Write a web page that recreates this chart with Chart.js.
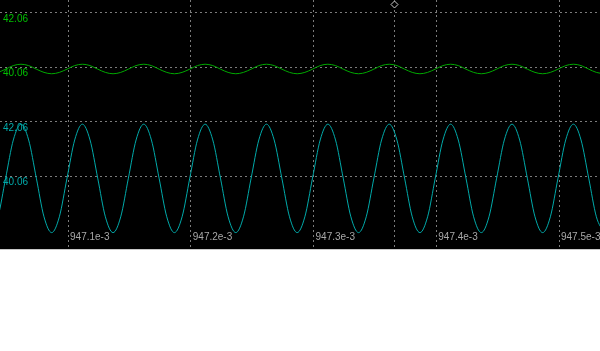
<!DOCTYPE html>
<html>
<head>
<meta charset="utf-8">
<script src="https://cdn.jsdelivr.net/npm/chart.js@4/dist/chart.umd.min.js"></script>
<style>
  html, body { margin: 0; padding: 0; background: #ffffff; }
  #wrap { position: relative; width: 600px; height: 351px; }
</style>
</head>
<body>
<div id="wrap"><canvas id="c"></canvas></div>
<script>
// ---- data ----
const sampleTimes = [
  0.94703670, 0.94704295, 0.94704920, 0.94705545, 0.94706170, 0.94706795, 0.94707420, 0.94708045,
  0.94708670, 0.94709295, 0.94709920, 0.94710545, 0.94711170, 0.94711795, 0.94712420, 0.94713045,
  0.94713670, 0.94714295, 0.94714920, 0.94715545, 0.94716170, 0.94716795, 0.94717420, 0.94718045,
  0.94718670, 0.94719295, 0.94719920, 0.94720545, 0.94721170, 0.94721795, 0.94722420, 0.94723045,
  0.94723670, 0.94724295, 0.94724920, 0.94725545, 0.94726170, 0.94726795, 0.94727420, 0.94728045,
  0.94728670, 0.94729295, 0.94729920, 0.94730545, 0.94731170, 0.94731795, 0.94732420, 0.94733045,
  0.94733670, 0.94734295, 0.94734920, 0.94735545, 0.94736170, 0.94736795, 0.94737420, 0.94738045,
  0.94738670, 0.94739295, 0.94739920, 0.94740545, 0.94741170, 0.94741795, 0.94742420, 0.94743045,
  0.94743670, 0.94744295, 0.94744920, 0.94745545, 0.94746170, 0.94746795, 0.94747420, 0.94748045,
  0.94748670, 0.94749295, 0.94749920, 0.94750545, 0.94751170, 0.94751795, 0.94752420, 0.94753045,
  0.94753670
];
const greenValues = [
  39.83, 39.88, 40.00, 40.13, 40.18, 40.13, 40.00, 39.88,
  39.83, 39.88, 40.00, 40.13, 40.18, 40.13, 40.00, 39.88,
  39.83, 39.88, 40.00, 40.13, 40.18, 40.13, 40.00, 39.88,
  39.83, 39.88, 40.00, 40.13, 40.18, 40.13, 40.00, 39.88,
  39.83, 39.88, 40.00, 40.13, 40.18, 40.13, 40.00, 39.88,
  39.83, 39.88, 40.00, 40.13, 40.18, 40.13, 40.00, 39.88,
  39.83, 39.88, 40.00, 40.13, 40.18, 40.13, 40.00, 39.88,
  39.83, 39.88, 40.00, 40.13, 40.18, 40.13, 40.00, 39.88,
  39.83, 39.88, 40.00, 40.13, 40.18, 40.13, 40.00, 39.88,
  39.83, 39.88, 40.00, 40.13, 40.18, 40.13, 40.00, 39.88,
  39.83
];
const cyanValues = [
  38.00, 38.58, 40.00, 41.40, 41.98, 41.40, 40.00, 38.58,
  38.00, 38.58, 40.00, 41.40, 41.98, 41.40, 40.00, 38.58,
  38.00, 38.58, 40.00, 41.40, 41.98, 41.40, 40.00, 38.58,
  38.00, 38.58, 40.00, 41.40, 41.98, 41.40, 40.00, 38.58,
  38.00, 38.58, 40.00, 41.40, 41.98, 41.40, 40.00, 38.58,
  38.00, 38.58, 40.00, 41.40, 41.98, 41.40, 40.00, 38.58,
  38.00, 38.58, 40.00, 41.40, 41.98, 41.40, 40.00, 38.58,
  38.00, 38.58, 40.00, 41.40, 41.98, 41.40, 40.00, 38.58,
  38.00, 38.58, 40.00, 41.40, 41.98, 41.40, 40.00, 38.58,
  38.00, 38.58, 40.00, 41.40, 41.98, 41.40, 40.00, 38.58,
  38.00
];
const triggerTime = 0.9473656;
const xTickValues = [0.9471, 0.9472, 0.9473, triggerTime, 0.9474, 0.9475];
const xTickLabels = ['947.1e-3', '947.2e-3', '947.3e-3', '', '947.4e-3', '947.5e-3'];
const greenTickValues = [40.06, 42.06];
const greenTickLabels = ['40.06', '42.06'];
const cyanTickValues = [40.06, 42.06];
const cyanTickLabels = ['40.06', '42.06'];
const xRange = [0.9470446, 0.9475334];
const greenRange = [33.399, 42.537];
const cyanRange = [37.399, 46.537];

// ---- styling ----
const GRID = '#7c7c7c';
const GREEN_LINE = '#00a800';
const GREEN_TEXT = '#00c000';
const CYAN = '#00aaaa';

Chart.defaults.font.family = "'Liberation Sans', Arial, sans-serif";
Chart.defaults.font.size = 10;

const bgPlugin = {
  id: 'scopeBg',
  beforeDraw(chart) {
    const ctx = chart.ctx, a = chart.chartArea;
    ctx.save();
    ctx.fillStyle = '#000000';
    ctx.fillRect(0, 0, chart.width, a.bottom);
    ctx.fillStyle = '#c8c8c8';
    ctx.fillRect(0, a.bottom, chart.width, 1);
    ctx.restore();
  },
  afterDatasetsDraw(chart) {
    const ctx = chart.ctx, a = chart.chartArea;
    const x = Math.round(chart.scales.x.getPixelForValue(triggerTime)) + 0.5;
    const y = a.top + 4.5;
    const r = 3.5;
    ctx.save();
    ctx.beginPath();
    ctx.moveTo(x, y - r); ctx.lineTo(x + r, y); ctx.lineTo(x, y + r); ctx.lineTo(x - r, y); ctx.closePath();
    ctx.fillStyle = '#000000';
    ctx.fill();
    ctx.strokeStyle = '#c8c8c8';
    ctx.lineWidth = 1;
    ctx.stroke();
    ctx.restore();
  }
};

function yAxis(range, tickValues, tickLabels, color) {
  return {
    type: 'linear',
    position: 'left',
    min: range[0],
    max: range[1],
    border: { display: false, dash: [2, 3] },
    grid: { color: GRID, drawTicks: false, lineWidth: 1 },
    afterBuildTicks(scale) { scale.ticks = tickValues.map(v => ({ value: v })); },
    afterFit(scale) { scale.width = 0; scale.paddingTop = 0; scale.paddingBottom = 0; },
    ticks: {
      mirror: true,
      padding: 3,
      labelOffset: 6,
      color: color,
      font: { size: 10 },
      callback(v, i) { return tickLabels[i]; }
    }
  };
}

new Chart(document.getElementById('c'), {
  type: 'line',
  data: {
    datasets: [
      {
        label: 'green',
        data: sampleTimes.map((t, i) => ({ x: t, y: greenValues[i] })),
        yAxisID: 'yGreen',
        borderColor: GREEN_LINE,
        borderWidth: 1,
        pointRadius: 0,
        cubicInterpolationMode: 'monotone'
      },
      {
        label: 'cyan',
        data: sampleTimes.map((t, i) => ({ x: t, y: cyanValues[i] })),
        yAxisID: 'yCyan',
        borderColor: CYAN,
        borderWidth: 1,
        pointRadius: 0,
        cubicInterpolationMode: 'monotone'
      }
    ]
  },
  options: {
    responsive: true,
    maintainAspectRatio: false,
    animation: false,
    layout: { padding: 0 },
    plugins: { legend: { display: false }, tooltip: { enabled: false } },
    scales: {
      x: {
        type: 'linear',
        position: 'bottom',
        min: xRange[0],
        max: xRange[1],
        border: { display: false, dash: [2, 3] },
        grid: { color: GRID, drawTicks: false, lineWidth: 1 },
        afterBuildTicks(scale) { scale.ticks = xTickValues.map(v => ({ value: v })); },
        afterFit(scale) { scale.height = 102; scale.paddingLeft = 0; scale.paddingRight = 0; },
        ticks: {
          mirror: true,
          align: 'start',
          padding: 6,
          labelOffset: 2,
          color: '#a8a8a8',
          maxRotation: 0,
          autoSkip: false,
          font: { size: 10 },
          callback(v, i) { return xTickLabels[i]; }
        }
      },
      yGreen: yAxis(greenRange, greenTickValues, greenTickLabels, GREEN_TEXT),
      yCyan: yAxis(cyanRange, cyanTickValues, cyanTickLabels, CYAN)
    }
  },
  plugins: [bgPlugin]
});
</script>
</body>
</html>
